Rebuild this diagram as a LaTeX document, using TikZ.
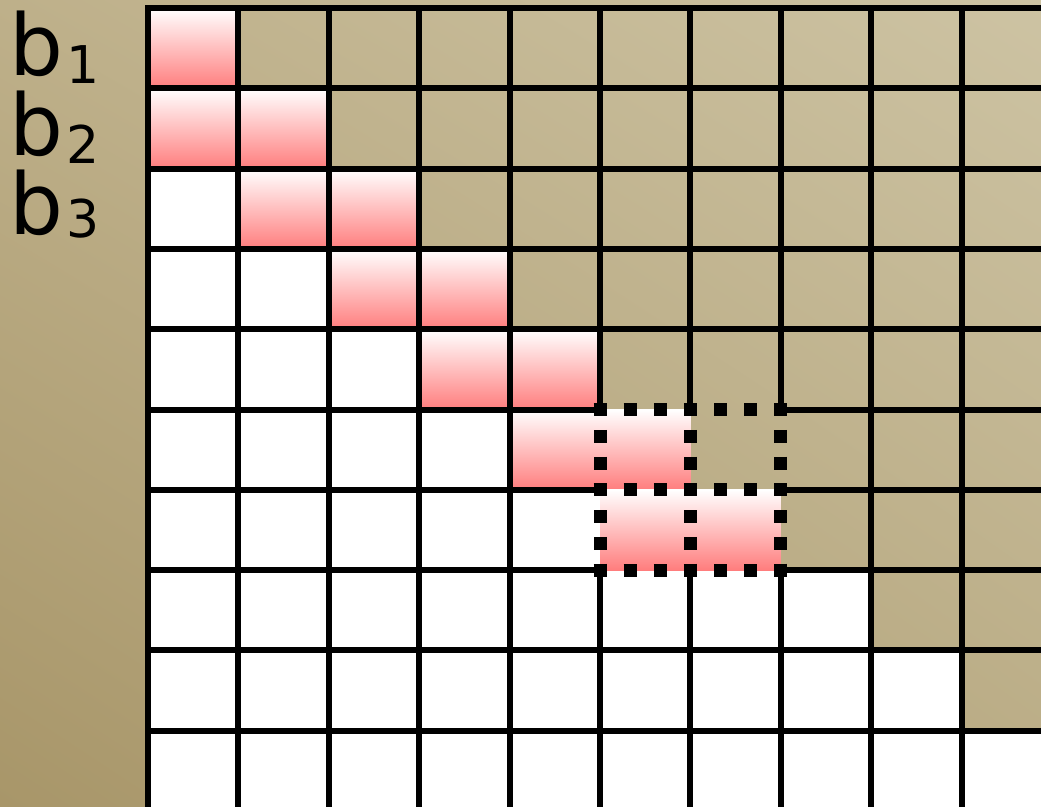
\documentclass[tikz,border=0pt]{standalone}
\usepackage{fontspec}
\setmainfont{DejaVu Sans}
\usetikzlibrary{shadings}
\definecolor{tanUL}{RGB}{190,176,138}
\definecolor{tanUR}{RGB}{205,195,163}
\definecolor{tanLL}{RGB}{168,150,105}
\definecolor{tanLR}{RGB}{186,172,133}
\definecolor{pinkB}{RGB}{255,125,125}
\newcommand\subdig[2]{{\fontsize{52}{52}\selectfont\hspace{3pt}\raisebox{#1pt}{#2}}}
\tikzset{
  lab/.style={anchor=base west,inner sep=0pt,font=\fontsize{85}{90}\selectfont},
  gridline/.style={line width=6pt,black},
  pinkcell/.style={top color=white,bottom color=pinkB,draw=none},
  dotsH/.style={line width=13pt,dash pattern=on 13pt off 17.13pt,black},
  dotsV/.style={line width=13pt,dash pattern=on 13pt off 13.77pt,black}
}
\begin{document}
\begin{tikzpicture}[x=1pt,y=-1pt]
\useasboundingbox (0,0) rectangle (1041,806);
% background
\shade[upper left=tanUL,upper right=tanUR,lower left=tanLL,lower right=tanLR] (0,0) rectangle (1041,806);
\def\cx#1{148+90.4*#1}
\def\ry#1{8+80.3*#1}
% white cells (lower triangle)
\foreach \i in {0,...,9}{
  \foreach \j in {0,...,\i}{
    \fill[white] ({\cx{\j}},{\ry{\i}}) rectangle ({\cx{(\j+1)}},{\ry{(\i+1)}});
  }
}
% pink cells
\shade[pinkcell] ({\cx{0}},{\ry{0}}) rectangle ({\cx{1}},{\ry{1}});
\foreach \i in {1,...,6}{
  \shade[pinkcell] ({\cx{(\i-1)}},{\ry{\i}}) rectangle ({\cx{(\i+1)}},{\ry{(\i+1)}});
}
% grid lines: horizontal
\foreach \i in {0,1,2,3,4,8,9}{
  \draw[gridline] ({\cx{0}-3},{\ry{\i}}) -- (1050,{\ry{\i}});
}
\foreach \i in {5,6,7}{
  \draw[gridline] ({\cx{0}-3},{\ry{\i}}) -- ({\cx{5}},{\ry{\i}});
  \draw[gridline] ({\cx{7}},{\ry{\i}}) -- (1050,{\ry{\i}});
}
% grid lines: vertical
\foreach \j in {0,1,2,3,4,8,9}{
  \draw[gridline] ({\cx{\j}},{\ry{0}-3}) -- ({\cx{\j}},815);
}
\foreach \j in {5,6,7}{
  \draw[gridline] ({\cx{\j}},{\ry{0}-3}) -- ({\cx{\j}},{\ry{5}});
  \draw[gridline] ({\cx{\j}},{\ry{7}}) -- ({\cx{\j}},815);
}
% dotted window
\foreach \i in {5,6,7}{
  \draw[dotsH] ({\cx{5}-6.5},{\ry{\i}}) -- ({\cx{7}+6.5},{\ry{\i}});
}
\foreach \j in {5,6,7}{
  \draw[dotsV] ({\cx{\j}},{\ry{5}-6.5}) -- ({\cx{\j}},{\ry{7}+6.5});
}
% labels
\node[lab] (b1) at (9,75) {b\subdig{-8}{1}};
\node[lab] (b2) at (9,155) {b\subdig{-8}{2}};
\node[lab] (b3) at (9,234) {b\subdig{-3}{3}};
\end{tikzpicture}
\end{document}
